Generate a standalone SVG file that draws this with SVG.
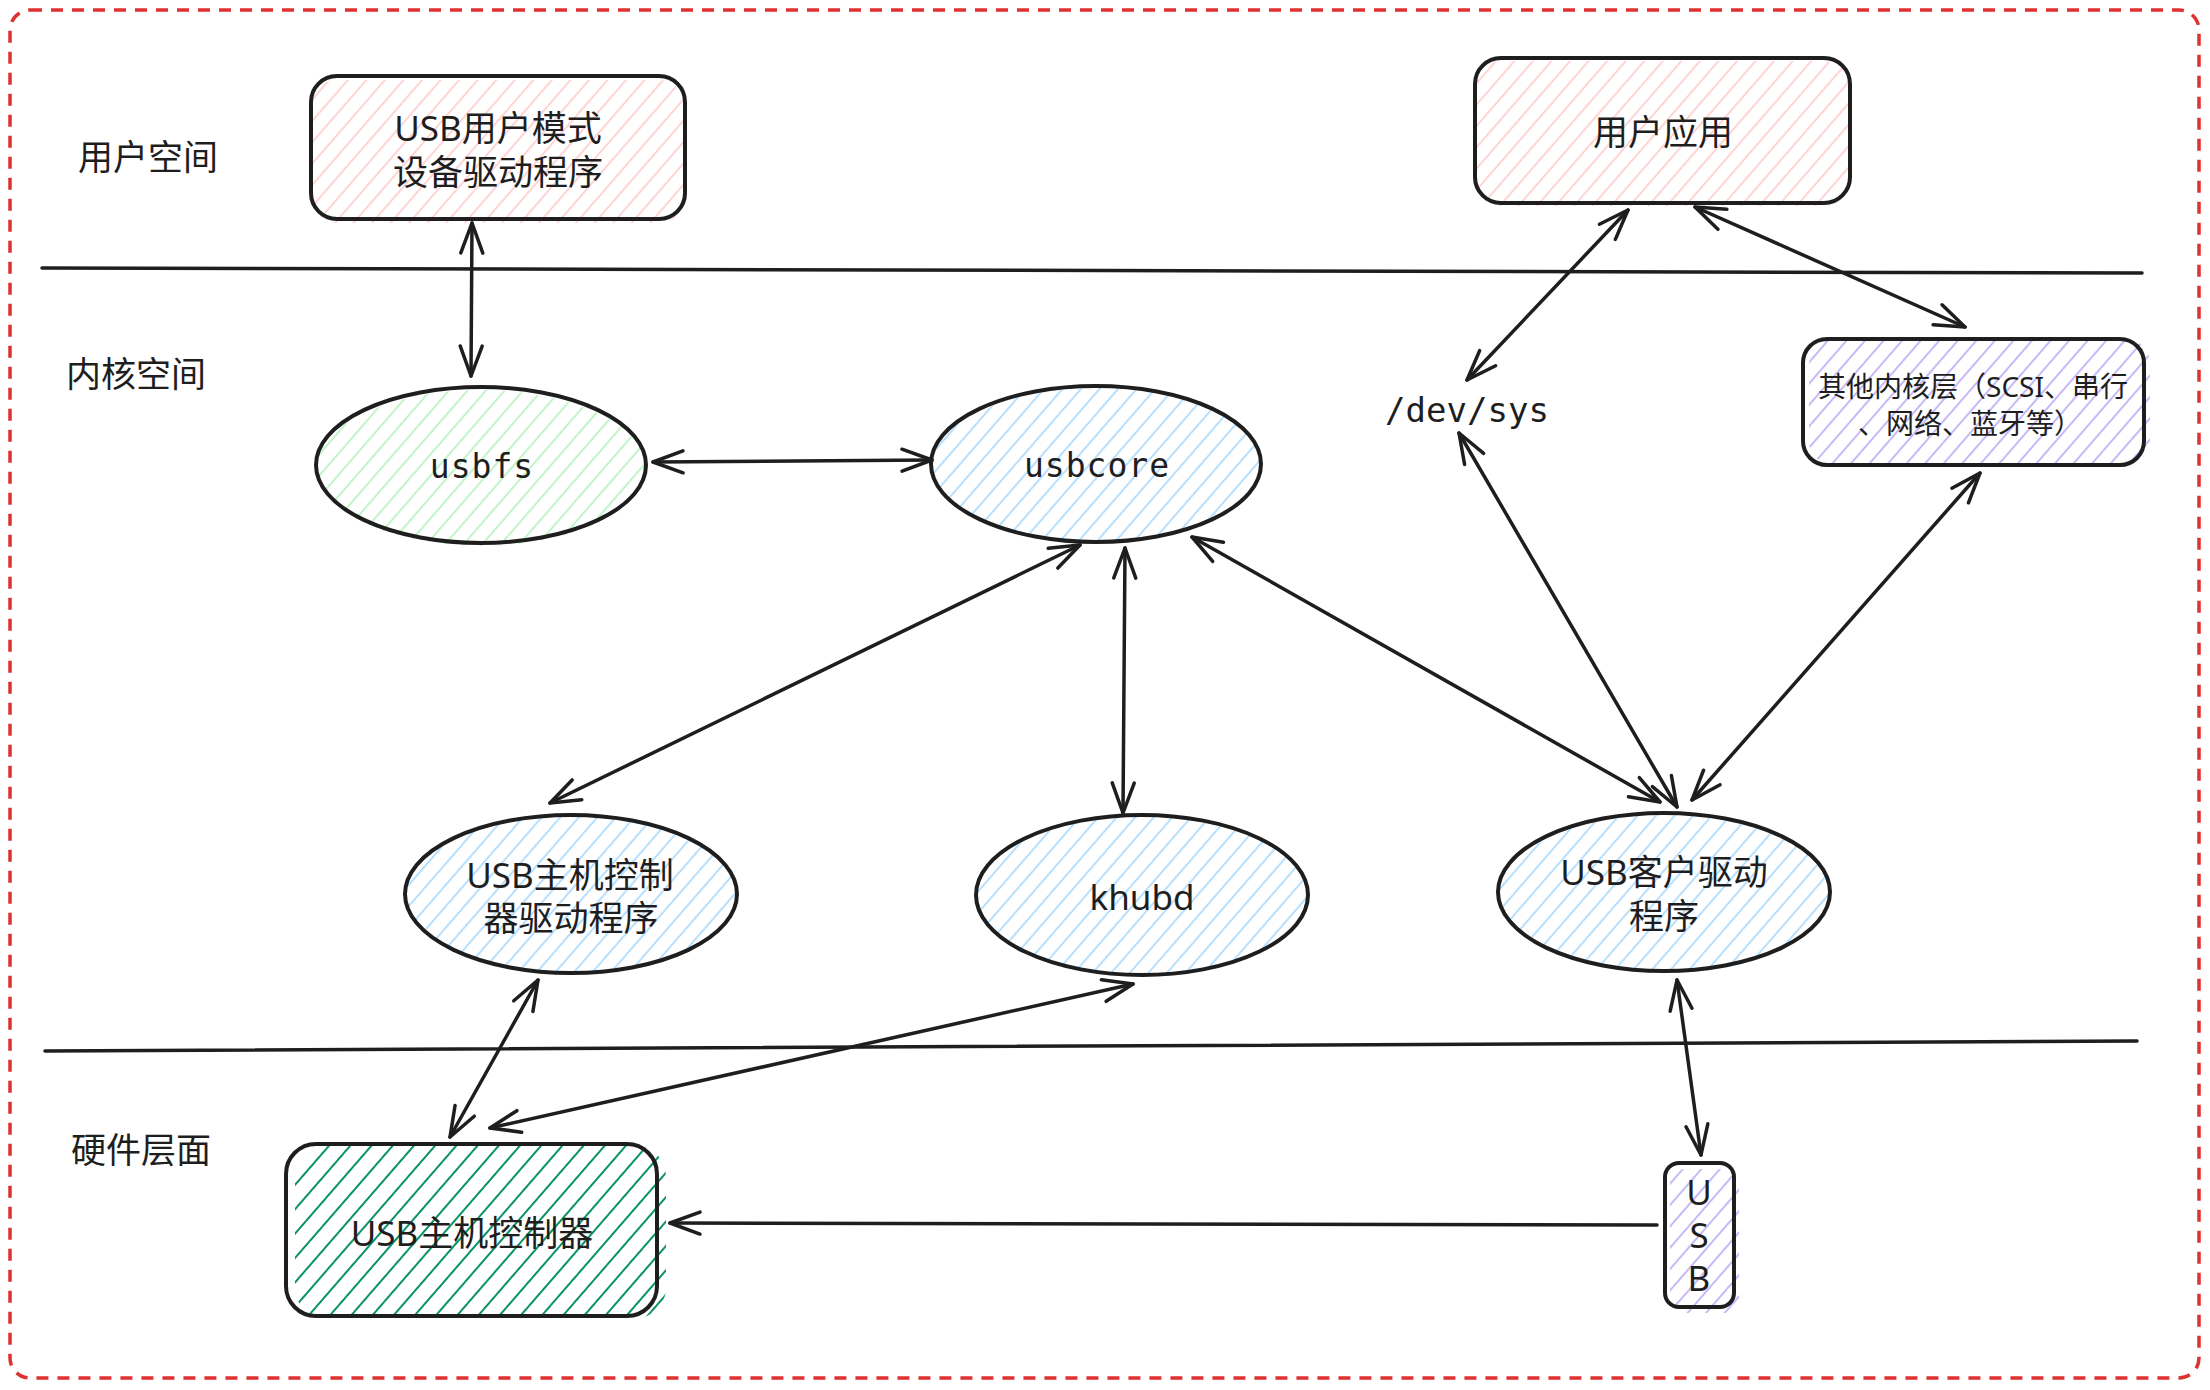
<svg xmlns="http://www.w3.org/2000/svg" width="2210" height="1390" viewBox="0 0 2210 1390">
<defs>
<style>
.sh{stroke:#1e1e1e;stroke-width:4;fill:none}
.cj{font-family:"Noto Sans","Noto Sans CJK SC",sans-serif;font-size:35px;fill:#1e1e1e;text-anchor:middle;dominant-baseline:central}
.mono{font-family:"DejaVu Sans Mono",monospace;fill:#1e1e1e;text-anchor:middle}
.ln{stroke:#1e1e1e;stroke-width:3.5;stroke-linecap:round;fill:none}
.ar{stroke:#1e1e1e;stroke-width:3.5;stroke-linecap:round;fill:none;marker-end:url(#ah)}
.ar2{stroke:#1e1e1e;stroke-width:3.5;stroke-linecap:round;fill:none;marker-start:url(#ah);marker-end:url(#ah)}
</style>
<pattern id="hPink" patternUnits="userSpaceOnUse" width="14" height="20" patternTransform="rotate(41)"><line x1="7" y1="-2" x2="7" y2="22" stroke="#ffc9c9" stroke-width="1.6"/></pattern>
<pattern id="hGreen" patternUnits="userSpaceOnUse" width="14" height="20" patternTransform="rotate(41)"><line x1="7" y1="-2" x2="7" y2="22" stroke="#b2f2bb" stroke-width="1.6"/></pattern>
<pattern id="hBlue" patternUnits="userSpaceOnUse" width="14" height="20" patternTransform="rotate(41)"><line x1="7" y1="-2" x2="7" y2="22" stroke="#a5d8ff" stroke-width="1.6"/></pattern>
<pattern id="hPurple" patternUnits="userSpaceOnUse" width="14" height="20" patternTransform="rotate(41)"><line x1="7" y1="-2" x2="7" y2="22" stroke="#b9a8f5" stroke-width="1.6"/></pattern>
<pattern id="hDark" patternUnits="userSpaceOnUse" width="16" height="20" patternTransform="rotate(41)"><line x1="8" y1="-2" x2="8" y2="22" stroke="#099268" stroke-width="2"/></pattern>
<marker id="ah" viewBox="-40 -20 50 40" refX="0" refY="0" markerWidth="50" markerHeight="40" markerUnits="userSpaceOnUse" orient="auto-start-reverse"><path d="M-30,-11 L0,0 L-30,11" fill="none" stroke="#1e1e1e" stroke-width="3.5" stroke-linecap="round" stroke-linejoin="round"/></marker>
</defs>
<rect width="2210" height="1390" fill="#ffffff"/>
<g id="frame">
<rect x="10" y="10" width="2189" height="1368" rx="20" fill="none" stroke="#e03131" stroke-width="3.5" stroke-dasharray="12 9"/>
</g>
<g id="dividers">
<line class="ln" x1="42" y1="268" x2="2142" y2="273"/>
<line class="ln" x1="45" y1="1051" x2="2137" y2="1041"/>
</g>
<g id="layer-labels">
<text class="cj" x="148" y="156">用户空间</text>
<text class="cj" x="136" y="373">内核空间</text>
<text class="cj" x="141" y="1149">硬件层面</text>
</g>
<g id="node-usb-user-driver">
<rect x="311" y="80" width="374" height="143" rx="26" fill="url(#hPink)"/>
<rect class="sh" x="311" y="76" width="374" height="143" rx="26"/>
<text class="cj" x="498" y="127">USB用户模式</text>
<text class="cj" x="498" y="171">设备驱动程序</text>
</g>
<g id="node-user-app">
<rect x="1475" y="61" width="375" height="145" rx="26" fill="url(#hPink)"/>
<rect class="sh" x="1475" y="58" width="375" height="145" rx="26"/>
<text class="cj" x="1663" y="131">用户应用</text>
</g>
<g id="node-other-kernel">
<rect x="1809" y="339" width="341" height="126" rx="24" fill="url(#hPurple)"/>
<rect class="sh" x="1803" y="339" width="341" height="126" rx="24"/>
<text class="cj" x="1973" y="386" style="font-size:28px">其他内核层（SCSI、串行</text>
<text class="cj" x="1970" y="423" style="font-size:28px">、网络、蓝牙等）</text>
</g>
<g id="node-devsys">
<text class="mono" x="1467" y="422" style="font-size:34px">/dev/sys</text>
</g>
<g id="node-usbfs">
<ellipse cx="481" cy="468" rx="165" ry="78" fill="url(#hGreen)"/>
<ellipse class="sh" cx="481" cy="465" rx="165" ry="78"/>
<text class="mono" x="482" y="478" style="font-size:33px;letter-spacing:1px">usbfs</text>
</g>
<g id="node-usbcore">
<ellipse cx="1097" cy="466" rx="165" ry="78" fill="url(#hBlue)"/>
<ellipse class="sh" cx="1096" cy="464" rx="165" ry="78"/>
<text class="mono" x="1097" y="477" style="font-size:33px;letter-spacing:1px">usbcore</text>
</g>
<g id="node-hcd">
<ellipse cx="572" cy="895" rx="166" ry="79" fill="url(#hBlue)"/>
<ellipse class="sh" cx="571" cy="894" rx="166" ry="79"/>
<text class="cj" x="570" y="874">USB主机控制</text>
<text class="cj" x="571" y="917">器驱动程序</text>
</g>
<g id="node-khubd">
<ellipse cx="1143" cy="896" rx="166" ry="80" fill="url(#hBlue)"/>
<ellipse class="sh" cx="1142" cy="895" rx="166" ry="80"/>
<text class="cj" x="1142" y="896">khubd</text>
</g>
<g id="node-client-driver">
<ellipse cx="1665" cy="894" rx="166" ry="79" fill="url(#hBlue)"/>
<ellipse class="sh" cx="1664" cy="892" rx="166" ry="79"/>
<text class="cj" x="1664" y="871">USB客户驱动</text>
<text class="cj" x="1664" y="915">程序</text>
</g>
<g id="node-host-controller">
<rect x="295" y="1146" width="371" height="172" rx="30" fill="url(#hDark)"/>
<rect class="sh" x="286" y="1144" width="371" height="172" rx="30"/>
<text class="cj" x="472" y="1232">USB主机控制器</text>
</g>
<g id="node-usb">
<rect x="1670" y="1169" width="69" height="144" rx="14" fill="url(#hPurple)"/>
<rect class="sh" x="1665" y="1163" width="69" height="144" rx="14"/>
<text class="cj" x="1699" y="1191">U</text>
<text class="cj" x="1699" y="1234">S</text>
<text class="cj" x="1699" y="1277">B</text>
</g>
<g id="connectors">
<line class="ar2" x1="472" y1="223" x2="471" y2="376"/>
<line class="ar2" x1="653" y1="462" x2="932" y2="460"/>
<line class="ar2" x1="1080" y1="545" x2="550" y2="803"/>
<line class="ar2" x1="1125" y1="548" x2="1123" y2="813"/>
<line class="ar2" x1="1192" y1="537" x2="1660" y2="802"/>
<line class="ar2" x1="1467" y1="380" x2="1628" y2="210"/>
<line class="ar2" x1="1695" y1="207" x2="1965" y2="327"/>
<line class="ar2" x1="1459" y1="433" x2="1677" y2="807"/>
<line class="ar2" x1="1980" y1="473" x2="1692" y2="800"/>
<line class="ar2" x1="538" y1="980" x2="450" y2="1137"/>
<line class="ar2" x1="1133" y1="984" x2="490" y2="1128"/>
<line class="ar2" x1="1677" y1="980" x2="1701" y2="1155"/>
<line class="ar" x1="1657" y1="1225" x2="670" y2="1223"/>
</g>
</svg>
